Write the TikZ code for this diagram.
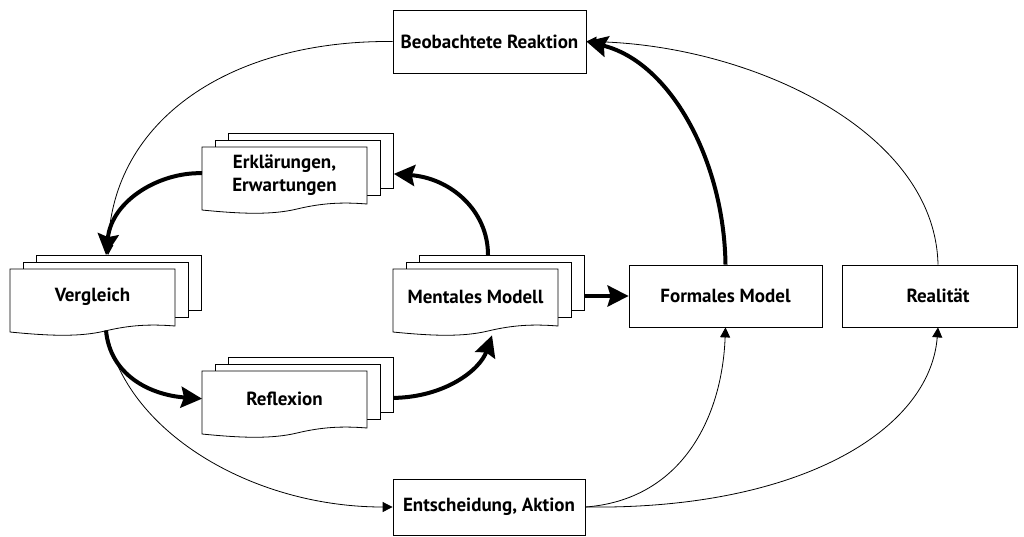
\documentclass[tikz,border=0pt]{standalone}
\usepackage{fontspec}
\setmainfont{PT Sans}
\usetikzlibrary{arrows.meta,calc}

\tikzset{
  lbl/.style={font=\bfseries\fontsize{19}{23}\selectfont, align=center, inner sep=0pt},
  box/.style={draw, line width=0.8pt, fill=white, inner sep=0pt, lbl},
  page/.style={draw, line width=0.8pt, fill=white, inner sep=0pt,
               minimum width=165pt, minimum height=55pt},
  thinarrow/.style={line width=0.8pt, -{Triangle[length=10pt,width=10pt]}},
  thickarrow/.style={line width=4pt, -{Stealth[length=21pt,width=21pt,inset=3pt]}},
}

% stacked documents: #1 name, #2 left, #3 top, #4 text
\newcommand\mdoc[4]{%
  \node[page, anchor=north west] (#1-c) at (#2+26,#3-14) {};
  \node[page, anchor=north west] (#1-b) at (#2+13,#3-7) {};
  \filldraw[fill=white, line width=0.8pt] (#2,#3) -- (#2+165,#3) -- (#2+165,#3+57)
    .. controls (#2+140,#3+55) and (#2+120,#3+56) .. (#2+95,#3+62)
    .. controls (#2+70,#3+68) and (#2+40,#3+67) .. (#2,#3+63) -- cycle;
  \node[minimum width=165pt, minimum height=63pt, inner sep=0pt, anchor=north west] (#1) at (#2,#3) {};
  \node[lbl] (#1-t) at (#2+82.5,#3+28) {#4};
}

\begin{document}
\begin{tikzpicture}[x=1pt,y=-1pt]
  \useasboundingbox (0,0) rectangle (1024,536);

  % documents
  \mdoc{erk}{202}{147}{Erklärungen,\\Erwartungen}
  \mdoc{verg}{10}{269}{Vergleich}
  \mdoc{ment}{393}{269}{Mentales Modell}
  \mdoc{refl}{202}{371}{Reflexion}

  % boxes
  \node[box, minimum width=193pt, minimum height=63pt] (beob) at (489.5,41.5) {Beobachtete Reaktion};
  \node[box, minimum width=192pt, minimum height=56pt] (ent) at (489,507) {Entscheidung, Aktion};
  \node[box, minimum width=193pt, minimum height=62pt] (formal) at (725.5,296) {Formales Model};
  \node[box, minimum width=175pt, minimum height=62pt] (real) at (929.5,296) {};
  \node[lbl] (real-t) at (938,296) {Realität};

  % thin connectors
  \draw[thinarrow] (beob.west) .. controls (230,40) and (112,120) .. ([xshift=72pt]verg-c.north west);
  \draw[thinarrow] ([xshift=97pt,yshift=1pt]verg.south west) .. controls (125,430) and (250,507) .. (ent.west);
  \draw[thinarrow] ([xshift=8.5pt]real.north) .. controls (935,130) and (750,45) .. (beob.east);
  \draw[thinarrow] (ent.east) .. controls (680,500) and (722,420) .. (formal.south);
  \draw[thinarrow] (ent.east) .. controls (800,510) and (930,430) .. ([xshift=8.5pt]real.south);

  % thick connectors
  \draw[thickarrow] ([yshift=5.5pt]erk.west) .. controls (160,172) and (112,200) .. ([xshift=70pt]verg-c.north west);
  \draw[thickarrow] ([xshift=69pt]ment-c.north west) .. controls (488,210) and (450,178) .. ([yshift=-13pt]erk-c.east);
  \draw[thickarrow] ([xshift=96pt,yshift=2pt]verg.south west) .. controls (110,375) and (150,395) .. ([yshift=4pt]refl.west);
  \draw[thickarrow] ([yshift=-13pt]refl-c.east) .. controls (445,397) and (480,370) .. ([xshift=99pt,yshift=-3pt]ment.south west);
  \draw[thickarrow] (ment-c.east |- formal.west) -- (formal.west);
  \draw[thickarrow] (formal.north) .. controls (724,160) and (670,62) .. (beob.east);
\end{tikzpicture}
\end{document}
